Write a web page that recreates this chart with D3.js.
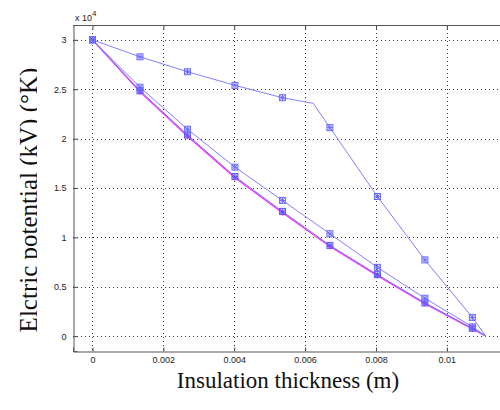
<!DOCTYPE html>
<html>
<head>
<meta charset="utf-8">
<script src="https://cdn.jsdelivr.net/npm/d3@7"></script>
<style>
  html, body { margin: 0; padding: 0; background: #fff; }
  svg { display: block; }
</style>
</head>
<body>
<svg id="chart" width="500" height="410"></svg>
<script>
// ---- data ----
const xTicks = [0, 0.002, 0.004, 0.006, 0.008, 0.01];
const xTickLabels = ["0", "0.002", "0.004", "0.006", "0.008", "0.01"];
const yTicks = [0, 5000, 10000, 15000, 20000, 25000, 30000];
const yTickLabels = ["0", "0.5", "1", "1.5", "2", "2.5", "3"];

const markerThickness = [0, 0.00134, 0.00268, 0.00402, 0.00536, 0.0067, 0.00804, 0.00938, 0.01072];

const curveAThickness = [0, 0.00134, 0.00268, 0.00402, 0.00536, 0.00623, 0.0067, 0.00804, 0.00938, 0.01072, 0.0111];
const curveAPotential = [30000, 28280, 26770, 25390, 24140, 23570, 21110, 14140, 7720, 1900, 0];

const curveThickness = [0, 0.00134, 0.00268, 0.00402, 0.00536, 0.0067, 0.00804, 0.00938, 0.01072, 0.0111];
const curveBPotential = [30000, 25200, 20950, 17110, 13740, 10370, 6970, 3840, 950, 0];
const curveCPotential = [30000, 24850, 20370, 16160, 12630, 9190, 6230, 3370, 800, 0];
const curveMPotential = [30000, 24730, 20230, 16030, 12490, 9070, 6130, 3290, 740, 0];

const xTitle = "Insulation thickness (m)";
const yTitle = "Elctric potential (kV)  (\u00B0K)";

// ---- layout ----
const svg = d3.select("#chart");
const mLeft = 73, mRight = 500, mTop = 25, mBottom = 351;
const x = d3.scaleLinear().domain([-0.00055, 0.0115]).range([mLeft, mRight]);
const y = d3.scaleLinear().domain([-1500, 31500]).range([mBottom, mTop]);

svg.append("rect").attr("width", 500).attr("height", 410).attr("fill", "#fff");

// grid
const grid = svg.append("g").attr("stroke", "#333").attr("stroke-width", 1).attr("stroke-dasharray", "1,3");
grid.selectAll("line.gx").data(xTicks).join("line")
  .attr("x1", d => Math.round(x(d)) + 0.5).attr("x2", d => Math.round(x(d)) + 0.5)
  .attr("y1", mTop).attr("y2", mBottom);
grid.selectAll("line.gy").data(yTicks).join("line")
  .attr("y1", d => Math.round(y(d)) + 0.5).attr("y2", d => Math.round(y(d)) + 0.5)
  .attr("x1", mLeft).attr("x2", mRight);

// axes with inward ticks
const xAxis = d3.axisBottom(x).tickValues(xTicks).tickSize(-4).tickPadding(5)
  .tickFormat((d, i) => xTickLabels[i]);
const gx = svg.append("g").attr("transform", `translate(0,${mBottom + 0.5})`).call(xAxis);
const yAxis = d3.axisLeft(y).tickValues(yTicks).tickSize(-4).tickPadding(7)
  .tickFormat((d, i) => yTickLabels[i]);
const gy = svg.append("g").attr("transform", `translate(${mLeft + 0.5},0)`).call(yAxis);
const xTop = d3.axisTop(x).tickValues(xTicks).tickSize(-4).tickFormat("");
const gt = svg.append("g").attr("transform", `translate(0,${mTop + 0.5})`).call(xTop);
[gx, gy, gt].forEach(g => {
  g.select(".domain").attr("stroke", "#555");
  g.selectAll(".tick line").attr("stroke", "#444");
  g.selectAll(".tick text").attr("font-family", "Liberation Sans, Arial, sans-serif")
    .attr("font-size", 9).attr("fill", "#222");
});
gt.select(".domain").attr("d", `M${mLeft},0H${mRight}`);

// x10^4 label
const exp = svg.append("text").attr("x", 75).attr("y", 21)
  .attr("font-family", "Liberation Sans, Arial, sans-serif").attr("font-size", 9).attr("fill", "#222");
exp.append("tspan").text("x 10");
exp.append("tspan").attr("dy", -5).attr("font-size", 8).text("4");

// lines
const lineGen = (xs) => d3.line().x((d, i) => x(xs[i])).y(d => y(d));
const plot = svg.append("g");

plot.append("path").attr("d", lineGen(curveThickness)(curveMPotential))
  .attr("fill", "none").attr("stroke", "#ff30ff").attr("stroke-width", 1.3);
plot.append("path").attr("d", lineGen(curveThickness)(curveCPotential))
  .attr("fill", "none").attr("stroke", "#7070ff").attr("stroke-width", 1);
plot.append("path").attr("d", lineGen(curveThickness)(curveBPotential))
  .attr("fill", "none").attr("stroke", "#8080ff").attr("stroke-width", 1);
plot.append("path").attr("d", lineGen(curveAThickness)(curveAPotential))
  .attr("fill", "none").attr("stroke", "#8080ff").attr("stroke-width", 1);

// markers: square with asterisk
function markers(xs, vs, color, withSquare) {
  const pts = markerThickness.map(t => {
    const i = xs.indexOf(t);
    return [x(t), y(vs[i])];
  });
  const g = plot.append("g").attr("stroke", color).attr("fill", "none").attr("stroke-width", 1);
  pts.forEach(([px, py]) => {
    const s = 3;
    if (withSquare) g.append("rect").attr("x", px - s).attr("y", py - s).attr("width", 2 * s).attr("height", 2 * s);
    g.append("path").attr("d",
      `M${px - s},${py}H${px + s}M${px},${py - s}V${py + s}M${px - 2.3},${py - 2.3}L${px + 2.3},${py + 2.3}M${px - 2.3},${py + 2.3}L${px + 2.3},${py - 2.3}`);
  });
}
markers(curveThickness, curveMPotential, "#e040e0", false);
markers(curveThickness, curveCPotential, "#5a5aff", true);
markers(curveThickness, curveBPotential, "#6a6aff", true);
markers(curveAThickness, curveAPotential, "#6a6aff", true);

// titles
svg.append("text").attr("x", 288).attr("y", 388).attr("text-anchor", "middle")
  .attr("font-family", "Liberation Serif, Times New Roman, serif").attr("font-size", 23).attr("fill", "#111")
  .text(xTitle);

const defs = svg.append("defs");
defs.append("clipPath").attr("id", "ytclip").append("rect").attr("x", 0).attr("y", 0).attr("width", 37).attr("height", 410);
svg.append("g").attr("clip-path", "url(#ytclip)")
  .append("text").attr("transform", "translate(37,200) rotate(-90)").attr("text-anchor", "middle")
  .attr("font-family", "Liberation Serif, Times New Roman, serif").attr("font-size", 25).attr("fill", "#111")
  .text(yTitle);
</script>
</body>
</html>
